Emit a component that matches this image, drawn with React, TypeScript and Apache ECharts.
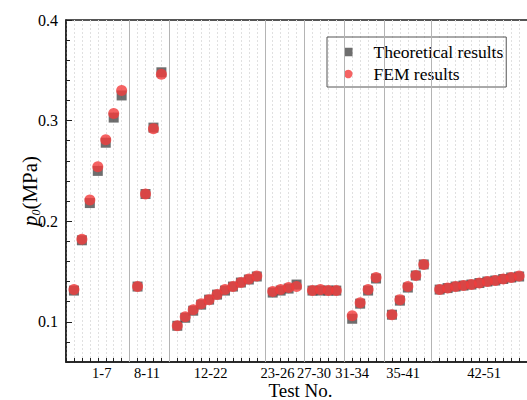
import React, { useEffect, useRef } from 'react';
import * as echarts from 'echarts';

// Group labels on the x axis and where they sit (in x-axis units)
const groupLabels = ['1-7', '8-11', '12-22', '23-26', '27-30', '31-34', '35-41', '42-51'];
const labelPositions = [4.5, 10.2, 18.2, 26.6, 31.2, 36.0, 42.4, 52.6];
// Vertical separators between groups (x-axis units)
const separatorPositions = [8, 13, 25, 30, 35, 40, 46];
// x position of each test on the axis
const testPositions = [
  1, 2, 3, 4, 5, 6, 7,
  9, 10, 11, 12,
  14, 15, 16, 17, 18, 19, 20, 21, 22, 23, 24,
  26, 27, 28, 29,
  31, 32, 33, 34,
  36, 37, 38, 39,
  41, 42, 43, 44, 45,
  47, 48, 49, 50, 51, 52, 53, 54, 55, 56, 57,
];
const theoretical = [
  0.131, 0.181, 0.218, 0.250, 0.278, 0.303, 0.325,
  0.135, 0.227, 0.293, 0.348,
  0.096, 0.104, 0.111, 0.117, 0.122, 0.127, 0.131, 0.135, 0.139, 0.142, 0.145,
  0.129, 0.131, 0.133, 0.137,
  0.131, 0.131, 0.131, 0.131,
  0.103, 0.118, 0.131, 0.143,
  0.107, 0.121, 0.134, 0.146, 0.157,
  0.132, 0.1335, 0.135, 0.136, 0.137, 0.1385, 0.140, 0.141, 0.1425, 0.144, 0.145,
];
const fem = [
  0.132, 0.182, 0.221, 0.254, 0.281, 0.307, 0.330,
  0.135, 0.227, 0.292, 0.346,
  0.096, 0.105, 0.112, 0.118, 0.122, 0.127, 0.132, 0.135, 0.139, 0.1425, 0.1455,
  0.130, 0.132, 0.134, 0.135,
  0.131, 0.132, 0.131, 0.131,
  0.106, 0.119, 0.132, 0.144,
  0.107, 0.122, 0.135, 0.146, 0.157,
  0.132, 0.1335, 0.135, 0.136, 0.137, 0.1385, 0.140, 0.141, 0.1425, 0.144, 0.1455,
];
const yLabelValues = [0.1, 0.2, 0.3, 0.4];

const FONT = 'Liberation Serif';
const AXIS_COLOR = '#1e1e1e';

export default function App() {
  const ref = useRef<HTMLDivElement>(null);

  useEffect(() => {
    if (!ref.current) return;
    const chart = echarts.init(ref.current, undefined, { renderer: 'svg' });
    const xMin = 0;
    const xMax = 60;
    const yMin = 0.06;
    const yMax = 0.4;

    chart.setOption({
      animation: false,
      backgroundColor: '#ffffff',
      textStyle: { fontFamily: FONT },
      grid: {
        left: 66,
        top: 20,
        right: -16,
        bottom: 38,
        containLabel: false,
        outerBoundsMode: 'none',
        show: true,
        borderColor: AXIS_COLOR,
        borderWidth: 1.5,
        backgroundColor: 'transparent',
      },
      legend: {
        orient: 'vertical',
        left: 327,
        top: 37,
        borderColor: '#555',
        borderWidth: 1,
        padding: [6, 3, 4, 17],
        itemGap: 4,
        itemWidth: 8.5,
        itemHeight: 8.5,
        textStyle: { fontFamily: FONT, fontSize: 17.5, color: '#000', padding: [0, 0, 0, 16] },
        data: [
          { name: 'Theoretical results', icon: 'rect' },
          { name: 'FEM results', icon: 'circle' },
        ],
      },
      xAxis: [
        {
          type: 'value',
          min: xMin,
          max: xMax,
          interval: 1,
          position: 'bottom',
          axisLine: { show: true, lineStyle: { color: AXIS_COLOR, width: 1.5 } },
          axisTick: { show: true, inside: true, length: 4, lineStyle: { color: AXIS_COLOR, width: 1 } },
          axisLabel: { show: false },
          splitLine: { show: true, lineStyle: { color: '#e0e0e0', width: 1, type: [2, 2] } },
          name: 'Test No.',
          nameLocation: 'middle',
          nameGap: 19,
          nameMoveOverlap: false,
          nameTextStyle: { fontFamily: FONT, fontSize: 19, color: '#000', padding: [0, 8, 0, 0] },
        },
        {
          type: 'value',
          min: xMin,
          max: xMax,
          position: 'bottom',
          axisLine: { show: false },
          axisTick: {
            show: true,
            inside: true,
            length: 7,
            customValues: separatorPositions,
            lineStyle: { color: AXIS_COLOR, width: 1 },
          },
          axisLabel: {
            show: true,
            customValues: labelPositions,
            margin: 3,
            fontFamily: FONT,
            fontSize: 14.5,
            color: '#000',
            formatter: (v: number) => {
              const i = labelPositions.findIndex((p) => Math.abs(p - v) < 1e-6);
              return i >= 0 ? groupLabels[i] : '';
            },
          },
          splitLine: { show: false },
        },
      ],
      yAxis: [
        {
          type: 'value',
          min: yMin,
          max: yMax,
          interval: 0.02,
          position: 'left',
          axisLine: { show: true, lineStyle: { color: AXIS_COLOR, width: 1.5 } },
          axisTick: { show: true, inside: true, length: 4, lineStyle: { color: AXIS_COLOR, width: 1 } },
          axisLabel: {
            show: true,
            customValues: yLabelValues,
            margin: 8,
            fontFamily: FONT,
            fontSize: 16,
            color: '#000',
            formatter: (v: number) => v.toFixed(1),
          },
          splitLine: { show: false },
          name: '{i|p}{s|0}{n|(MPa)}',
          nameLocation: 'middle',
          nameGap: 24,
          nameMoveOverlap: false,
          nameTextStyle: {
            fontFamily: FONT,
            fontSize: 21,
            color: '#000',
            rich: {
              i: { fontFamily: FONT, fontSize: 21, fontStyle: 'italic', color: '#000', lineHeight: 24 },
              s: {
                fontFamily: FONT,
                fontSize: 12,
                fontStyle: 'italic',
                color: '#000',
                lineHeight: 12,
                verticalAlign: 'bottom',
              },
              n: { fontFamily: FONT, fontSize: 21, color: '#000', lineHeight: 24 },
            },
          },
        },
        {
          type: 'value',
          min: yMin,
          max: yMax,
          position: 'left',
          axisLine: { show: false },
          axisTick: {
            show: true,
            inside: true,
            length: 6,
            customValues: yLabelValues,
            lineStyle: { color: AXIS_COLOR, width: 1 },
          },
          axisLabel: { show: false },
          splitLine: { show: false },
        },
      ],
      series: [
        {
          name: 'Theoretical results',
          type: 'scatter',
          xAxisIndex: 0,
          yAxisIndex: 0,
          symbol: 'rect',
          symbolSize: 10,
          itemStyle: { color: '#4a4a4a' },
          data: testPositions.map((x, i) => [x, theoretical[i]]),
          markLine: {
            silent: true,
            symbol: ['none', 'none'],
            label: { show: false },
            lineStyle: { color: '#b4b4b4', width: 1, type: 'solid' },
            emphasis: { disabled: true },
            data: separatorPositions.map((x) => ({ xAxis: x })),
          },
          z: 2,
        },
        {
          name: 'FEM results',
          type: 'scatter',
          xAxisIndex: 0,
          yAxisIndex: 0,
          symbol: 'circle',
          symbolSize: 11,
          itemStyle: { color: '#f23c3c' },
          data: testPositions.map((x, i) => [x, fem[i]]),
          z: 3,
        },
      ],
    });

    return () => {
      chart.dispose();
    };
  }, []);

  return (
    <div
      ref={ref}
      style={{ position: 'fixed', left: 0, top: 0, width: 527, height: 400, background: '#fff' }}
    />
  );
}
